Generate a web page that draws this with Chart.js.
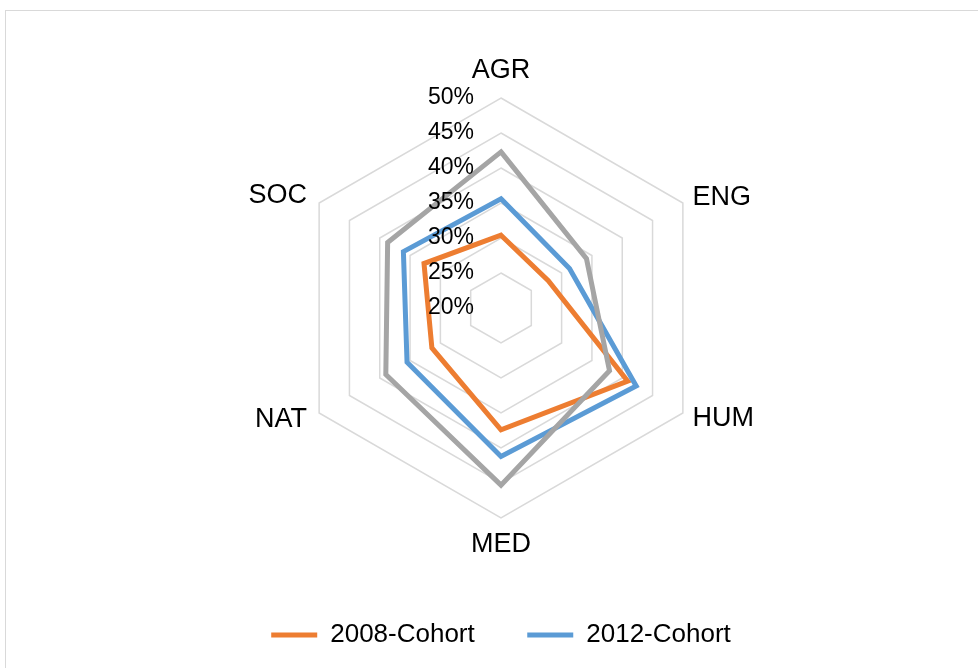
<!DOCTYPE html>
<html>
<head>
<meta charset="utf-8">
<title>Cohort radar</title>
<script src="https://cdn.jsdelivr.net/npm/chart.js@4.4.1/dist/chart.umd.min.js"></script>
<style>
    html, body {
        margin: 0;
        padding: 0;
        background: #fff;
        overflow: hidden;
    }
    #frame {
        position: absolute;
        left: 5px;
        top: 10px;
        width: 1000px;
        height: 720px;
        box-sizing: border-box;
        border: 1px solid #d9d9d9;
        background: #fff;
    }
</style>
</head>
<body>
<div id="frame">
    <canvas id="radarChart"></canvas>
</div>
<script>
// Data (percent)
const fields = ['AGR', 'ENG', 'HUM', 'MED', 'NAT', 'SOC'];
const cohort2008 = [30.4, 27.8, 40.9, 37.4, 31.4, 32.7];
const cohort2012 = [35.6, 31.3, 42.3, 41.2, 35.5, 36.1];
const cohort2016 = [42.3, 34.1, 37.9, 45.3, 39.0, 38.7];

const FONT = '"Liberation Sans", Arial, sans-serif';

// Tick labels sit left of the vertical axis, like the original
const tickLabels = {
    id: 'tickLabels',
    afterDatasetsDraw(chart) {
        const scale = chart.scales.r;
        const ctx = chart.ctx;
        ctx.save();
        ctx.font = '23px ' + FONT;
        ctx.fillStyle = '#000';
        ctx.textAlign = 'right';
        ctx.textBaseline = 'middle';
        scale.ticks.forEach(tick => {
            const y = scale.yCenter - scale.getDistanceFromCenterForValue(tick.value);
            ctx.fillText(tick.value + '%', scale.xCenter - 27, y);
        });
        ctx.restore();
    }
};

const makeSet = (label, data, color, order) => ({
    label: label,
    data: data,
    borderColor: color,
    backgroundColor: color,
    borderWidth: 5,
    borderCapStyle: 'round',
    pointRadius: 0,
    pointHoverRadius: 0,
    fill: false,
    tension: 0,
    order: order
});

const ctx = document.getElementById('radarChart').getContext('2d');
const radarChart = new Chart(ctx, {
    type: 'radar',
    data: {
        labels: fields,
        datasets: [
            makeSet('2008-Cohort', cohort2008, '#ED7D31', 2),
            makeSet('2012-Cohort', cohort2012, '#5B9BD5', 1),
            makeSet('2016-Cohort', cohort2016, '#A5A5A5', 0)
        ]
    },
    options: {
        responsive: true,
        maintainAspectRatio: false,
        animation: false,
        layout: {
            padding: { top: 60, bottom: 71, left: 0, right: 8 }
        },
        scales: {
            r: {
                min: 20,
                max: 50,
                ticks: {
                    stepSize: 5,
                    display: false
                },
                grid: {
                    color: '#d9d9d9',
                    lineWidth: 1.5
                },
                angleLines: { display: false },
                pointLabels: {
                    color: '#000',
                    font: { family: FONT, size: 27, lineHeight: 0 },
                    padding: (c) => [27, 11, 11, 27, 14, 14][c.index]
                }
            }
        },
        plugins: {
            tooltip: { enabled: false },
            legend: {
                position: 'bottom',
                title: {
                    display: true,
                    text: '',
                    font: { size: 10 },
                    padding: { top: 12.5, bottom: 0 }
                },
                labels: {
                    color: '#000',
                    font: { family: FONT, size: 26 },
                    usePointStyle: true,
                    pointStyle: 'line',
                    pointStyleWidth: 46,
                    padding: 52.5,
                    filter: (item) => item.datasetIndex < 2,
                    sort: (a, b) => a.datasetIndex - b.datasetIndex
                }
            }
        }
    },
    plugins: [tickLabels]
});
</script>
</body>
</html>
